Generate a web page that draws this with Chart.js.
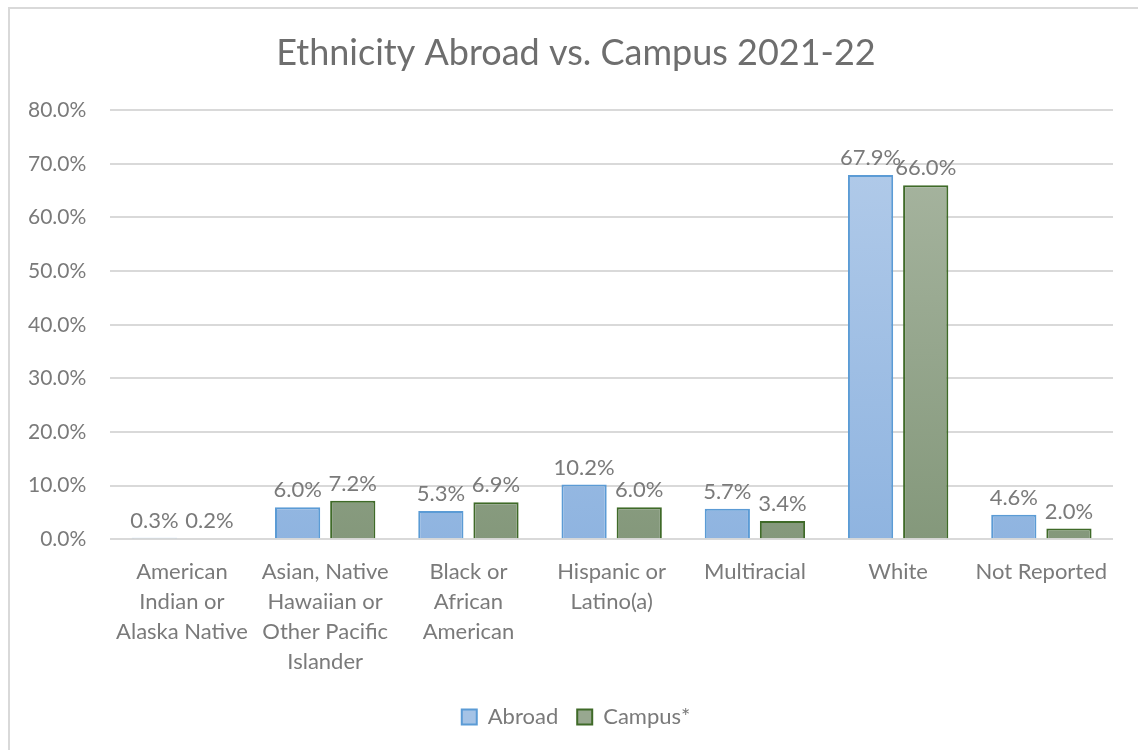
<!DOCTYPE html>
<html>
<head>
<meta charset="utf-8">
<script src="https://cdn.jsdelivr.net/npm/chart.js@4"></script>
<style>
  html, body { margin: 0; padding: 0; background: #fff; }
  #marco { position: absolute; left: 8px; top: 7px; width: 1140px; height: 760px; border: 2px solid #d9d9d9; box-sizing: border-box; }
  #caja { position: absolute; left: 0; top: 0; width: 1138px; height: 750px; }
</style>
</head>
<body>
<div id="marco"></div>
<div id="caja"><canvas id="grafico"></canvas></div>
<script>
// Datos del grafico
const categorias = [
    ["American", "Indian or", "Alaska Native"],
    ["Asian, Native", "Hawaiian or", "Other Pacific", "Islander"],
    ["Black or", "African", "American"],
    ["Hispanic or", "Latino(a)"],
    "Multiracial",
    "White",
    "Not Reported"
];
const abroad = [0.3, 6.0, 5.3, 10.2, 5.7, 67.9, 4.6];
const campus = [0.2, 7.2, 6.9, 6.0, 3.4, 66.0, 2.0];
const ticksY = [0, 10, 20, 30, 40, 50, 60, 70, 80];

const fuente = "Lato, 'Open Sans', sans-serif";
const gris = '#7a7a7a';

function degradado(ctx, arriba, abajo) {
    const area = ctx.chart.chartArea;
    if (!area) return arriba;
    const g = ctx.chart.ctx.createLinearGradient(0, area.top, 0, area.bottom);
    g.addColorStop(0, arriba);
    g.addColorStop(1, abajo);
    return g;
}

// Etiquetas encima de las barras
const etiquetas = {
    id: 'etiquetas',
    afterLayout(chart) {
        // el eje Y se achica en afterFit, aqui se corre su borde izq. para que no se recorten los textos
        chart.scales.y.left -= 35;
    },
    afterDatasetsDraw(chart) {
        const ctx = chart.ctx;
        ctx.save();
        ctx.font = '22px ' + fuente;
        ctx.fillStyle = gris;
        ctx.textAlign = 'center';
        ctx.textBaseline = 'bottom';
        chart.data.datasets.forEach((ds, i) => {
            chart.getDatasetMeta(i).data.forEach((barra, j) => {
                ctx.fillText(ds.data[j].toFixed(1) + '%', barra.x, barra.y - 6);
            });
        });
        ctx.restore();
    }
};

const ctxG = document.getElementById('grafico').getContext('2d');
const grafico = new Chart(ctxG, {
    type: 'bar',
    data: {
        labels: categorias,
        datasets: [{
            label: 'Abroad',
            data: abroad,
            backgroundColor: c => degradado(c, '#b5cdea', '#8fb4e0'),
            borderColor: '#5b9bd5',
            borderWidth: 2
        }, {
            label: 'Campus*',
            data: campus,
            backgroundColor: c => degradado(c, '#abb8a4', '#84987b'),
            borderColor: '#3f6a28',
            borderWidth: 2
        }]
    },
    options: {
        responsive: true,
        maintainAspectRatio: false,
        animation: false,
        categoryPercentage: 0.77,
        barPercentage: 0.82,
        layout: { padding: { left: 39, right: 25, top: 20, bottom: 12 } },
        plugins: {
            title: {
                display: true,
                text: 'Ethnicity Abroad vs. Campus 2021-22',
                color: '#6e6e6e',
                font: { family: fuente, size: 36, weight: 'normal' },
                padding: { top: 12, bottom: 35 }
            },
            legend: {
                position: 'bottom',
                labels: {
                    color: gris,
                    font: { family: fuente, size: 22 },
                    boxWidth: 15,
                    boxHeight: 15,
                    padding: 19,
                    generateLabels: chart => chart.data.datasets.map((ds, i) => ({
                        text: ds.label,
                        fillStyle: i === 0 ? '#a5c3e6' : '#98a890',
                        strokeStyle: ds.borderColor,
                        lineWidth: 2,
                        datasetIndex: i,
                        fontColor: gris
                    }))
                }
            },
            tooltip: { enabled: false }
        },
        scales: {
            x: {
                grid: { display: false },
                border: { display: false },
                ticks: {
                    color: gris,
                    font: { family: fuente, size: 22, lineHeight: 1.36 },
                    maxRotation: 0,
                    autoSkip: false,
                    padding: 10
                }
            },
            y: {
                min: 0,
                max: 80,
                afterBuildTicks: axis => { axis.ticks = ticksY.map(v => ({ value: v })); },
                afterFit: axis => { axis.width -= 35; },
                grid: { color: '#d9d9d9', lineWidth: 2, drawTicks: false },
                border: { display: false },
                ticks: {
                    color: gris,
                    font: { family: fuente, size: 21 },
                    padding: 24,
                    callback: v => v.toFixed(1) + '%'
                }
            }
        }
    },
    plugins: [etiquetas]
});
</script>
</body>
</html>
